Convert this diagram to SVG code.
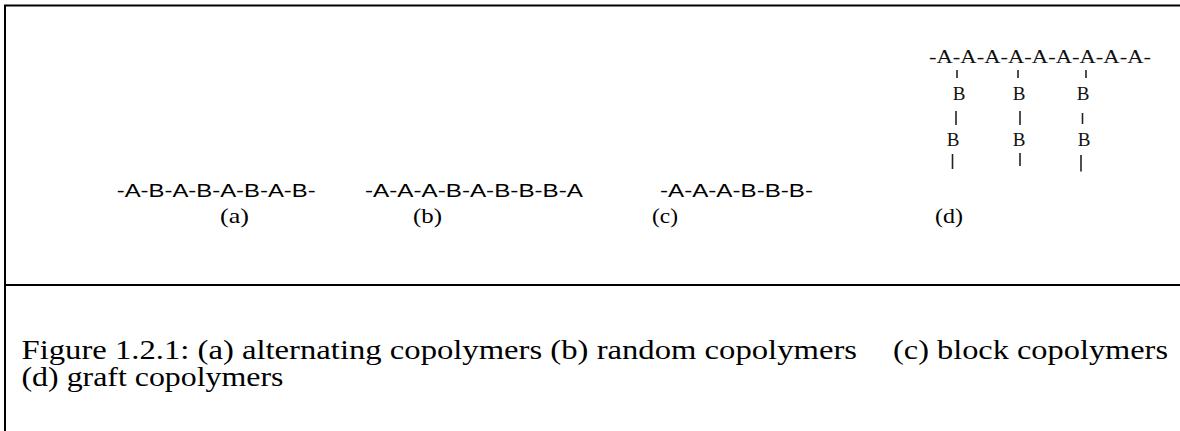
<svg xmlns="http://www.w3.org/2000/svg" width="1180" height="431" viewBox="0 0 1180 431">
  <style>
    .frame { stroke: #000; stroke-width: 2; fill: none; }
    .chain { font-family: "Liberation Sans", Arial, sans-serif; font-size: 18px; fill: #000; }
    .label { font-family: "Liberation Serif", "Times New Roman", serif; font-size: 21px; fill: #000; }
    .graft { font-family: "Liberation Serif", "Times New Roman", serif; font-size: 19px; fill: #111; }
    .caption { font-family: "Liberation Serif", "Times New Roman", serif; font-size: 28px; fill: #000; }
    .bond { stroke: #222; stroke-width: 1.6; }
  </style>
  <rect width="1180" height="431" fill="#fff"/>

  <!-- table frame: top rule, left rule, divider above caption -->
  <g id="frame">
    <line class="frame" x1="4" y1="5.5" x2="1180" y2="5.5"/>
    <line class="frame" x1="5" y1="5" x2="5" y2="431"/>
    <line class="frame" x1="4" y1="285" x2="1180" y2="285"/>
  </g>

  <!-- (a) alternating -->
  <g id="chain-a">
    <text class="chain" x="116.7" y="197" textLength="199" lengthAdjust="spacingAndGlyphs">-A-B-A-B-A-B-A-B-</text>
    <text class="label" x="220" y="223" textLength="29" lengthAdjust="spacingAndGlyphs">(a)</text>
  </g>

  <!-- (b) random -->
  <g id="chain-b">
    <text class="chain" x="365" y="197" textLength="218" lengthAdjust="spacingAndGlyphs">-A-A-A-B-A-B-B-B-A</text>
    <text class="label" x="413" y="223" textLength="29" lengthAdjust="spacingAndGlyphs">(b)</text>
  </g>

  <!-- (c) block -->
  <g id="chain-c">
    <text class="chain" x="660" y="197" textLength="153" lengthAdjust="spacingAndGlyphs">-A-A-A-B-B-B-</text>
    <text class="label" x="652" y="223" textLength="26" lengthAdjust="spacingAndGlyphs">(c)</text>
  </g>

  <!-- (d) graft: A backbone with B side chains -->
  <g id="graft-d">
    <text class="graft" x="929" y="63.3" textLength="222" lengthAdjust="spacingAndGlyphs">-A-A-A-A-A-A-A-A-A-</text>
    <g class="graft" text-anchor="middle">
      <text x="959" y="100">B</text>
      <text x="1019" y="100">B</text>
      <text x="1083" y="100">B</text>
      <text x="953" y="145.5">B</text>
      <text x="1019" y="145.5">B</text>
      <text x="1084" y="145.5">B</text>
    </g>
    <text class="label" x="935" y="223" textLength="28" lengthAdjust="spacingAndGlyphs">(d)</text>
  </g>

  <!-- side-chain bonds -->
  <g id="bonds">
    <line class="bond" x1="957" y1="70" x2="957" y2="78"/>
    <line class="bond" x1="1018" y1="70" x2="1018" y2="78"/>
    <line class="bond" x1="1086" y1="70" x2="1086" y2="78"/>
    <line class="bond" x1="956" y1="111" x2="956" y2="125"/>
    <line class="bond" x1="1020" y1="111" x2="1020" y2="125"/>
    <line class="bond" x1="1082.5" y1="113" x2="1082.5" y2="124"/>
    <line class="bond" x1="952.5" y1="154" x2="952.5" y2="169"/>
    <line class="bond" x1="1020" y1="153" x2="1020" y2="166"/>
    <line class="bond" x1="1081" y1="155" x2="1081" y2="171.5"/>
  </g>

  <!-- caption -->
  <g id="caption">
    <text class="caption" x="21.5" y="359" textLength="835.5" lengthAdjust="spacingAndGlyphs">Figure 1.2.1: (a) alternating copolymers (b) random copolymers</text>
    <text class="caption" x="893" y="359" textLength="275" lengthAdjust="spacingAndGlyphs">(c) block copolymers</text>
    <text class="caption" x="21.5" y="386" textLength="262" lengthAdjust="spacingAndGlyphs">(d) graft copolymers</text>
  </g>
</svg>
